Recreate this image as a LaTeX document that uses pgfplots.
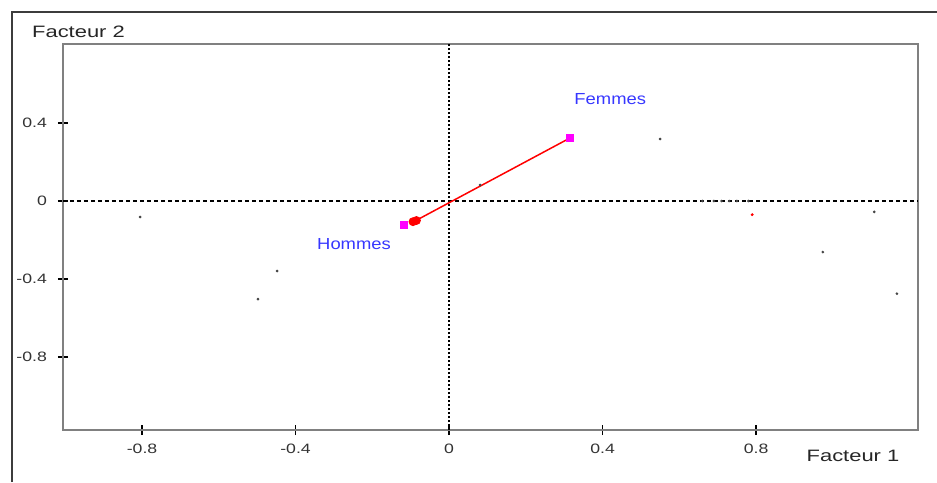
\documentclass[border=0pt]{standalone}
\usepackage{fontspec}
\setmainfont{Liberation Sans}
\newfontfamily\labfont{Liberation Sans}[FakeStretch=1.33]
\newfontfamily\tickfont{Liberation Sans}[FakeStretch=1.3]
\newfontfamily\namefont{Liberation Sans}[FakeStretch=1.15]
\usepackage{pgfplots}
\pgfplotsset{compat=1.18}
\definecolor{lblue}{RGB}{55,55,255}
\definecolor{pmag}{RGB}{255,0,255}
\definecolor{axgray}{RGB}{128,128,128}
\definecolor{frgray}{RGB}{60,60,60}
\definecolor{dotgray}{RGB}{70,70,70}
\begin{document}
\begin{tikzpicture}
\useasboundingbox (0,0) rectangle (468.5pt,-241pt);
\draw[frgray, line width=1pt] (6pt,-241pt) -- (6pt,-6pt) -- (468.5pt,-6pt);
\begin{axis}[
  at={(31.5pt,-215pt)}, anchor=south west,
  scale only axis, width=427.5pt, height=193pt,
  xmin=-1.006, xmax=1.222, ymin=-1.174, ymax=0.805,
  xtick={-0.8,-0.4,0,0.4,0.8}, ytick={-0.8,-0.4,0,0.4},
  /pgf/number format/assume math mode=true,
  tick label style={font=\tickfont\fontsize{6.8}{7}\selectfont, text=black!80},
  yticklabel style={xshift=-2pt},
  xticklabel style={yshift=-1pt},
  tick align=center, major tick length=5pt,
  tick style={black, line width=0.6pt},
  xtick pos=bottom, ytick pos=left,
  axis line style={axgray, line width=1pt},
  clip=false,
]
\addplot[black, line width=0.6pt, dash pattern=on 2pt off 1.5pt] coordinates {(-1.006,0) (1.222,0)};
\addplot[black, line width=0.8pt, dash pattern=on 0.9pt off 1.1pt] coordinates {(0,-1.174) (0,0.805)};
\addplot[red, line width=0.75pt] coordinates {(-0.094,-0.108) (0.315,0.323)};
\addplot[only marks, mark=*, mark size=0.45pt, dotgray] coordinates {
(-0.805,-0.082) (-0.448,-0.359) (-0.498,-0.503) (0.081,0.082) (0.55,0.318)
(0.974,-0.262) (1.108,-0.056) (1.167,-0.475)
(0.66,0) (0.69,0) (0.71,0) (0.73,0) (0.75,0) (0.78,0)};
\addplot[only marks, mark=*, mark size=0.5pt, red] coordinates {(0.79,-0.07)};
\addplot[only marks, mark=square*, mark size=1.75pt, pmag] coordinates {(-0.117,-0.123) (0.315,0.323)};
\addplot[only marks, mark=*, mark size=2pt, red] coordinates {(-0.094,-0.106) (-0.085,-0.1)};
\node[lblue, font=\namefont\fontsize{8}{9}\selectfont] at (axis cs:0.42,0.523) {Femmes};
\node[lblue, font=\namefont\fontsize{8}{9}\selectfont] at (axis cs:-0.2476,-0.2205) {Hommes};
\end{axis}
\node[font=\labfont\fontsize{8.25}{9}\selectfont, text=black!85] at (426.5pt,-228pt) {Facteur 1};
\node[font=\labfont\fontsize{8.25}{9}\selectfont, text=black!85] at (39.25pt,-15.75pt) {Facteur 2};
\end{tikzpicture}
\end{document}
